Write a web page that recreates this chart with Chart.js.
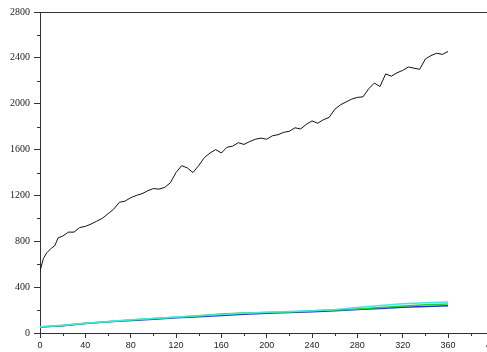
<!DOCTYPE html>
<html>
<head>
<meta charset="utf-8">
<script src="https://cdn.jsdelivr.net/npm/chart.js@4"></script>
<style>
  html, body { margin: 0; padding: 0; background: #fff; overflow: hidden; }
  #wrap { width: 487px; height: 352px; overflow: hidden; }
</style>
</head>
<body>
<div id="wrap"><canvas id="chart" width="516" height="352"></canvas></div>
<script>
// x positions of the readings
const blackX = [0, 3, 6, 10, 13, 16, 20, 25, 30, 35, 40, 45, 50, 55, 60, 65, 70, 75, 80, 85, 90, 95, 100,
  105, 110, 115, 120, 125, 130, 135, 140, 145, 150, 155, 160, 165, 170, 175, 180, 185, 190, 195, 200,
  205, 210, 215, 220, 225, 230, 235, 240, 245, 250, 255, 260, 265, 270, 275, 280, 285, 290, 295, 300,
  305, 310, 315, 320, 325, 330, 335, 340, 345, 350, 355, 360];
const blackY = [540, 650, 700, 740, 760, 830, 845, 880, 880, 920, 930, 950, 975, 1000, 1040, 1080, 1140,
  1150, 1180, 1200, 1215, 1240, 1260, 1255, 1270, 1310, 1400, 1460, 1440, 1400, 1460, 1530, 1570, 1600,
  1570, 1620, 1630, 1660, 1645, 1670, 1690, 1700, 1690, 1720, 1730, 1750, 1760, 1790, 1780, 1820, 1850,
  1830, 1860, 1880, 1950, 1990, 2015, 2040, 2055, 2060, 2130, 2180, 2150, 2260, 2240, 2270, 2290, 2320,
  2310, 2300, 2390, 2420, 2440, 2430, 2455];

const lowX = [0, 20, 40, 60, 80, 100, 120, 140, 160, 180, 200, 220, 240, 260, 280, 300, 320, 340, 360];
const cyanY = [55, 68, 86, 100, 115, 126, 140, 150, 162, 172, 180, 188, 195, 206, 222, 240, 256, 264, 270];
const greenY = [52, 66, 84, 98, 114, 126, 138, 150, 165, 174, 178, 184, 194, 200, 210, 222, 236, 246, 252];
const blueY = [52, 64, 82, 98, 110, 120, 132, 142, 152, 163, 172, 178, 186, 194, 204, 214, 224, 232, 238];

const xMajor = [0, 40, 80, 120, 160, 200, 240, 280, 320, 360, 400];
const xMinor = [20, 60, 100, 140, 180, 220, 260, 300, 340, 380, 420];
const yMajor = [0, 400, 800, 1200, 1600, 2000, 2400, 2800];
const yMinor = [200, 600, 1000, 1400, 1800, 2200, 2600];

const AXIS = '#333';

function pts(xs, ys) {
    return xs.map((x, i) => ({ x: x, y: ys[i] }));
}

// short minor ticks + top frame line
const extras = {
    id: 'extras',
    afterDraw(chart) {
        const ctx = chart.ctx;
        const area = chart.chartArea;
        const sx = chart.scales.x, sy = chart.scales.y;
        ctx.save();
        ctx.strokeStyle = AXIS;
        ctx.lineWidth = 1;
        ctx.beginPath();
        ctx.moveTo(area.left, area.top + 0.5);
        ctx.lineTo(area.right, area.top + 0.5);
        xMinor.forEach(v => {
            const px = Math.round(sx.getPixelForValue(v)) + 0.5;
            ctx.moveTo(px, area.bottom);
            ctx.lineTo(px, area.bottom + 3);
        });
        yMinor.forEach(v => {
            const py = Math.round(sy.getPixelForValue(v)) + 0.5;
            ctx.moveTo(area.left, py);
            ctx.lineTo(area.left - 3, py);
        });
        ctx.stroke();
        ctx.restore();
    }
};

new Chart(document.getElementById('chart'), {
    type: 'line',
    data: {
        datasets: [
            { data: pts(blackX, blackY), borderColor: '#111', borderWidth: 1, order: 0 },
            { data: pts(lowX, cyanY), borderColor: '#40e8e0', borderWidth: 1.5, order: 1 },
            { data: pts(lowX, greenY), borderColor: '#22d040', borderWidth: 1.5, order: 2 },
            { data: pts(lowX, blueY), borderColor: '#2233cc', borderWidth: 1.5, order: 3 }
        ]
    },
    options: {
        responsive: false,
        animation: false,
        devicePixelRatio: 1,
        layout: { padding: { top: 12, left: 0, right: 0, bottom: 0 } },
        elements: { point: { radius: 0 }, line: { tension: 0 } },
        plugins: { legend: { display: false }, tooltip: { enabled: false } },
        scales: {
            x: {
                type: 'linear',
                min: 0,
                max: 420,
                afterBuildTicks: s => { s.ticks = xMajor.map(v => ({ value: v })); },
                afterFit: s => { s.height = 19; s.paddingLeft = 0; s.paddingRight = 0; },
                grid: { drawOnChartArea: false, tickLength: 5, tickColor: AXIS },
                border: { display: true, color: AXIS, width: 1 },
                ticks: {
                    padding: 2,
                    color: '#222',
                    maxRotation: 0,
                    autoSkip: false,
                    callback: v => String(v),
                    font: { family: 'Liberation Sans', size: 9 }
                }
            },
            y: {
                type: 'linear',
                min: 0,
                max: 2800,
                afterBuildTicks: s => { s.ticks = yMajor.map(v => ({ value: v })); },
                afterFit: s => { s.width = 40; s.paddingTop = 0; s.paddingBottom = 0; },
                grid: { drawOnChartArea: false, tickLength: 6, tickColor: AXIS },
                border: { display: true, color: AXIS, width: 1 },
                ticks: {
                    padding: 4,
                    color: '#222',
                    autoSkip: false,
                    callback: v => String(v),
                    font: { family: 'Liberation Serif', size: 10 }
                }
            }
        }
    },
    plugins: [extras]
});
</script>
</body>
</html>
